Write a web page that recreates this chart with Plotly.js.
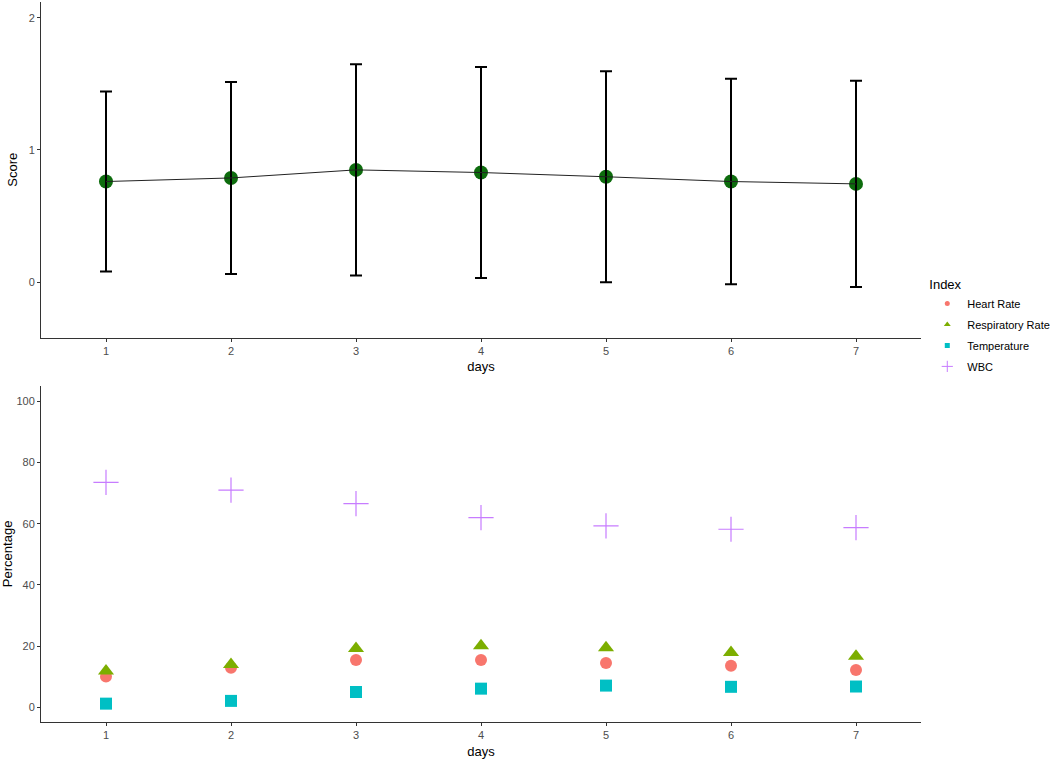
<!DOCTYPE html>
<html>
<head>
<meta charset="utf-8">
<script src="https://cdn.plot.ly/plotly-3.0.1.min.js"></script>
<style>html,body{margin:0;padding:0;background:#fff;}#chart{width:1056px;height:759px;}</style>
</head>
<body>
<div id="chart"></div>
<script>
// Data
const days = [1, 2, 3, 4, 5, 6, 7];
const scoreMean = [0.761, 0.788, 0.849, 0.829, 0.797, 0.761, 0.743];
const scoreSD = [0.682, 0.727, 0.799, 0.798, 0.798, 0.778, 0.780];
const heartRate = [10.1, 12.9, 15.5, 15.5, 14.5, 13.6, 12.2];
const respiratoryRate = [11.9, 14.0, 19.2, 20.1, 19.5, 17.9, 16.7];
const temperature = [1.2, 2.1, 5.0, 6.1, 7.1, 6.7, 6.8];
const wbc = [73.5, 71.0, 66.6, 62.0, 59.3, 58.2, 58.7];
const seriesNames = ['Heart Rate', 'Respiratory Rate', 'Temperature', 'WBC'];

const cHR = '#F8766D', cRR = '#7CAE00', cT = '#00BFC4', cW = '#C77CFF';

const traces = [
  { x: days, y: scoreMean, mode: 'markers', type: 'scatter', xaxis: 'x', yaxis: 'y',
    marker: { color: '#006400', size: 14, opacity: 0.95 }, showlegend: false, hoverinfo: 'skip' },
  { x: days, y: scoreMean, mode: 'lines', type: 'scatter', xaxis: 'x', yaxis: 'y',
    line: { color: '#222', width: 1 }, showlegend: false,
    error_y: { type: 'data', array: scoreSD, visible: true, color: '#000', thickness: 2, width: 6 } },
  { x: days, y: heartRate, name: seriesNames[0], mode: 'markers', type: 'scatter', xaxis: 'x2', yaxis: 'y2',
    marker: { color: cHR, size: 12, symbol: 'circle' }, showlegend: false },
  { x: days, y: respiratoryRate, name: seriesNames[1], mode: 'markers', type: 'scatter', xaxis: 'x2', yaxis: 'y2',
    marker: { color: cRR, size: 14, symbol: 'triangle-up' }, showlegend: false },
  { x: days, y: temperature, name: seriesNames[2], mode: 'markers', type: 'scatter', xaxis: 'x2', yaxis: 'y2',
    marker: { color: cT, size: 12, symbol: 'square' }, showlegend: false },
  { x: days, y: wbc, name: seriesNames[3], mode: 'markers', type: 'scatter', xaxis: 'x2', yaxis: 'y2',
    marker: { color: cW, size: 18, symbol: 'cross-thin', line: { color: cW, width: 1.2 } }, showlegend: false },
  // legend entries
  { x: [null], y: [null], name: seriesNames[0], legendgroup: 'g1', mode: 'markers', type: 'scatter', xaxis: 'x2', yaxis: 'y2',
    marker: { color: cHR, size: 5, symbol: 'circle' } },
  { x: [null], y: [null], name: seriesNames[1], legendgroup: 'g2', mode: 'markers', type: 'scatter', xaxis: 'x2', yaxis: 'y2',
    marker: { color: cRR, size: 6, symbol: 'triangle-up' } },
  { x: [null], y: [null], name: seriesNames[2], legendgroup: 'g3', mode: 'markers', type: 'scatter', xaxis: 'x2', yaxis: 'y2',
    marker: { color: cT, size: 5, symbol: 'square' } },
  { x: [null], y: [null], name: seriesNames[3], legendgroup: 'g4', mode: 'markers', type: 'scatter', xaxis: 'x2', yaxis: 'y2',
    marker: { color: cW, size: 8, symbol: 'cross-thin', line: { color: cW, width: 1 } } }
];

const axisBase = {
  showgrid: false, zeroline: false, showline: true, linecolor: '#333', linewidth: 1,
  ticks: 'outside', ticklen: 3, tickcolor: '#333', tickwidth: 1,
  tickfont: { family: 'Liberation Sans, Arial, sans-serif', size: 11, color: '#4d4d4d' },
  automargin: false, fixedrange: true
};
const titleFont = { family: 'Liberation Sans, Arial, sans-serif', size: 13, color: '#000' };

const layout = {
  width: 1056, height: 759,
  margin: { l: 41, r: 134, t: 2, b: 37 },
  paper_bgcolor: '#fff', plot_bgcolor: '#fff',
  font: { family: 'Liberation Sans, Arial, sans-serif' },
  xaxis: Object.assign({}, axisBase, { domain: [0, 1], anchor: 'y', range: [0.48, 7.52], tickvals: days, ticktext: days.map(String),
    title: { text: 'days', font: titleFont, standoff: 6 } }),
  yaxis: Object.assign({}, axisBase, { domain: [0.534, 1], anchor: 'x', range: [-0.42, 2.12], tickvals: [0, 1, 2],
    title: { text: 'Score', font: titleFont, standoff: 8 } }),
  xaxis2: Object.assign({}, axisBase, { domain: [0, 1], anchor: 'y2', range: [0.48, 7.52], tickvals: days, ticktext: days.map(String),
    title: { text: 'days', font: titleFont, standoff: 6 } }),
  yaxis2: Object.assign({}, axisBase, { domain: [0, 0.467], anchor: 'x2', range: [-4.8, 105.1], tickvals: [0, 20, 40, 60, 80, 100],
    title: { text: 'Percentage', font: titleFont, standoff: 4 } }),
  legend: {
    x: 1.006, xanchor: 'left', y: 0.625, yanchor: 'top',
    title: { text: 'Index', font: { family: 'Liberation Sans, Arial, sans-serif', size: 13, color: '#000' } },
    font: { family: 'Liberation Sans, Arial, sans-serif', size: 11, color: '#000' },
    itemsizing: 'trace', tracegroupgap: 2, bgcolor: 'rgba(0,0,0,0)'
  },
  showlegend: true
};

Plotly.newPlot('chart', traces, layout, { displayModeBar: false, staticPlot: true });
</script>
</body>
</html>
